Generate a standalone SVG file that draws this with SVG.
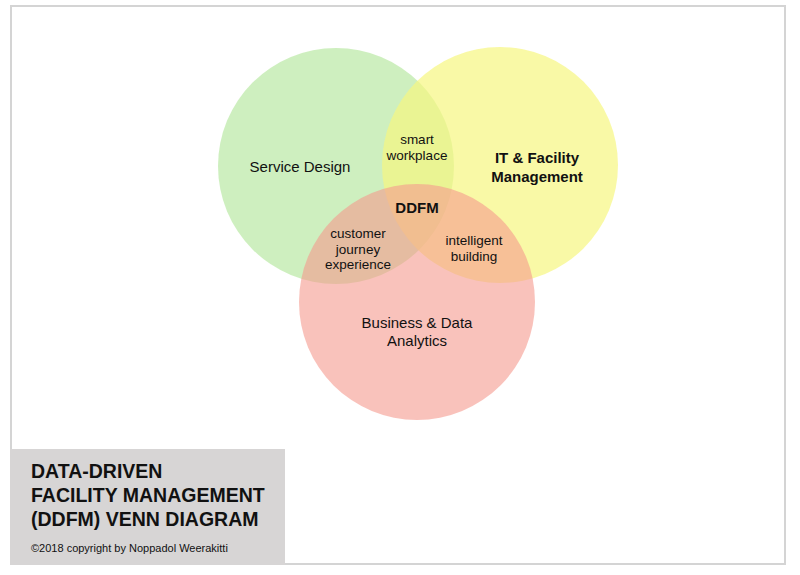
<svg xmlns="http://www.w3.org/2000/svg" width="800" height="575" viewBox="0 0 800 575">
<style>
text{font-family:"Liberation Sans",Arial,sans-serif;fill:#111;text-anchor:middle}
.l{font-size:15px}
.s{font-size:13.5px}
.b{font-size:15px;font-weight:bold}
.t{font-size:19.5px;font-weight:bold;text-anchor:start}
</style>
<rect x="0" y="0" width="800" height="575" fill="#fff"/>
<rect x="11" y="6" width="774" height="558" fill="#fff" stroke="#d4d4d4" stroke-width="2"/>
<g id="circles">
<circle id="service" cx="336" cy="166" r="118" fill="#b4e69c" fill-opacity="0.65"/>
<circle id="it" cx="500" cy="165" r="118" fill="#f7f780" fill-opacity="0.7"/>
<circle id="business" cx="417" cy="302" r="118" fill="#f59a8e" fill-opacity="0.6"/>
</g>
<g id="labels">
<text class="l" x="300" y="172">Service Design</text>
<text class="b" x="537" y="163">IT &amp; Facility</text>
<text class="b" x="537" y="182">Management</text>
<text class="l" x="417" y="328">Business &amp; Data</text>
<text class="l" x="417" y="346">Analytics</text>
<text class="s" x="417" y="144">smart</text>
<text class="s" x="417" y="160">workplace</text>
<text class="b" x="417" y="213">DDFM</text>
<text class="s" x="358" y="238">customer</text>
<text class="s" x="358" y="254">journey</text>
<text class="s" x="358" y="269">experience</text>
<text class="s" x="474" y="245">intelligent</text>
<text class="s" x="474" y="261">building</text>
</g>
<g id="title">
<rect x="10" y="449" width="275" height="116" fill="#d7d5d5"/>
<text class="t" x="31" y="478">DATA-DRIVEN</text>
<text class="t" x="31" y="502">FACILITY MANAGEMENT</text>
<text class="t" x="31" y="526">(DDFM) VENN DIAGRAM</text>
<text x="31" y="552" font-size="11" style="text-anchor:start">©2018 copyright by Noppadol Weerakitti</text>
</g>
</svg>
